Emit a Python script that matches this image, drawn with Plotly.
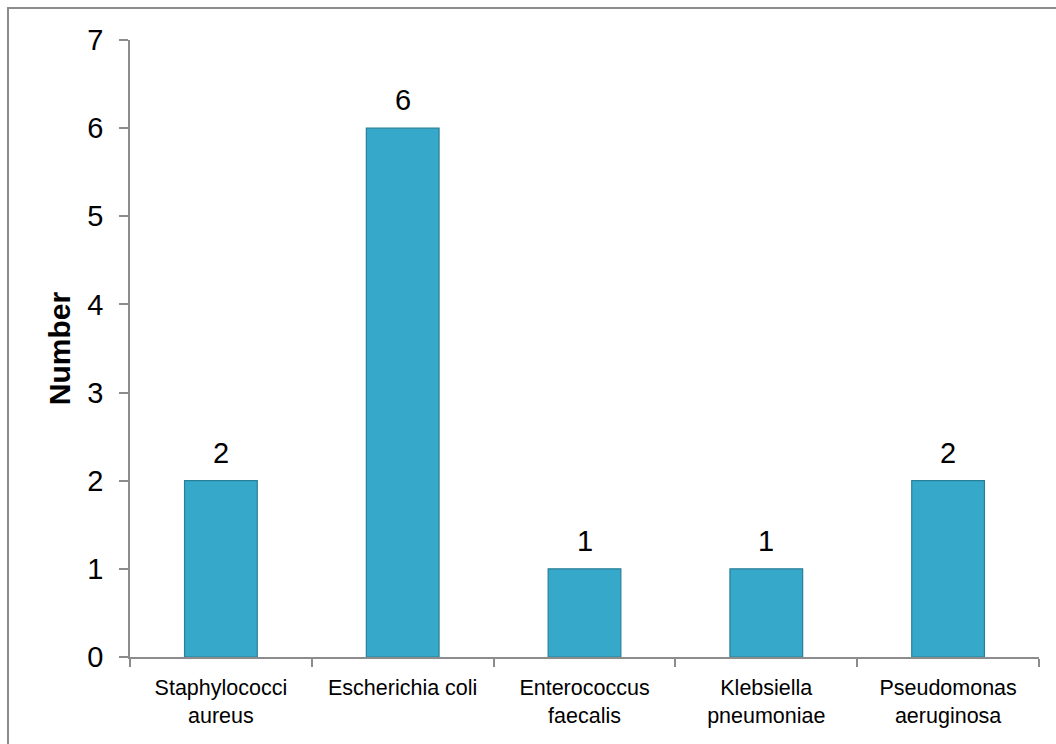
import plotly.graph_objects as go

categories = ["Staphylococci<br>aureus", "Escherichia coli", "Enterococcus<br>faecalis",
              "Klebsiella<br>pneumoniae", "Pseudomonas<br>aeruginosa"]
values = [2, 6, 1, 1, 2]
y_ticks = [0, 1, 2, 3, 4, 5, 6, 7]

FONT = "Liberation Sans, Arial, sans-serif"

fig = go.Figure()
fig.add_trace(go.Bar(
    x=categories, y=values, width=0.4,
    marker=dict(color="#36a9ca", line=dict(color="#2a7f98", width=1.2)),
    hoverinfo="skip",
))

for c, v in zip(categories, values):
    fig.add_annotation(x=c, y=v, text=str(v), showarrow=False,
                       yanchor="bottom", yshift=10,
                       font=dict(family=FONT, size=29, color="black"))

fig.add_shape(type="rect", xref="paper", yref="paper",
              x0=-0.1342, y0=-0.5, x1=1.2, y1=1.0519,
              line=dict(color="#8c8c8c", width=2), layer="below")

fig.update_layout(
    width=1056, height=744,
    margin=dict(l=130, r=17, t=40, b=87),
    paper_bgcolor="white", plot_bgcolor="white",
    showlegend=False,
    font=dict(family=FONT, color="black"),
)
fig.update_xaxes(
    type="category", showline=True, linecolor="#8c8c8c", linewidth=1.5,
    ticks="outside", tickson="boundaries", ticklen=8, tickcolor="#8c8c8c", tickwidth=1.5,
    tickfont=dict(family=FONT, size=21.5, color="black"), showgrid=False,
    ticklabelstandoff=10,
)
fig.update_yaxes(
    range=[0, 7], tickvals=y_ticks, showline=True, linecolor="#8c8c8c", linewidth=1.5,
    ticks="outside", ticklen=9, tickcolor="#8c8c8c", tickwidth=1.5,
    tickfont=dict(family=FONT, size=29, color="black"), showgrid=False, zeroline=False,
    ticklabelstandoff=10,
    title=dict(text="<b>Number</b>", font=dict(family=FONT, size=30, color="black"), standoff=8),
)

fig.write_html("out.html")
